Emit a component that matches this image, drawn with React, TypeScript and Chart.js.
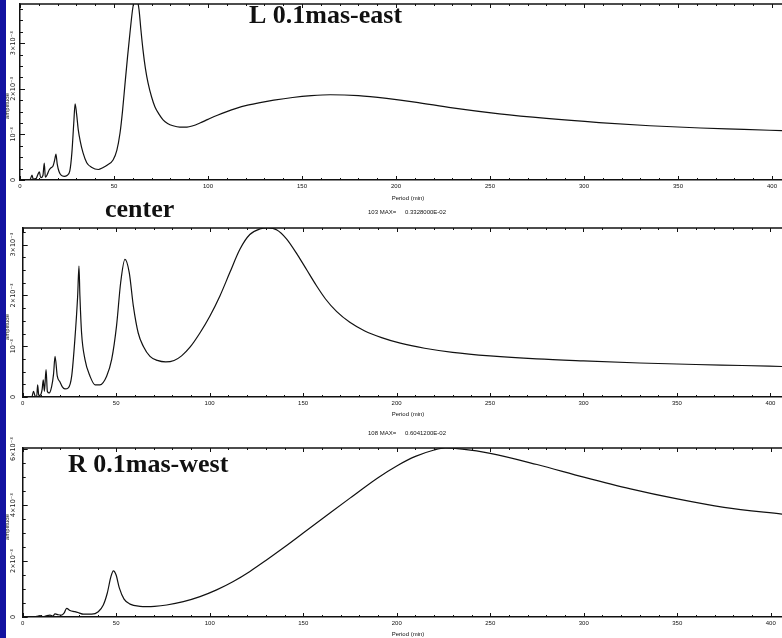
import { useEffect, useRef } from "react";
import { Chart, registerables } from "chart.js";

Chart.register(...registerables);

const PAGE_W = 782;
const PAGE_H = 638;
const INK = "#111";
const SANS = '"Liberation Sans", Arial, sans-serif';
const SERIF = '"Liberation Serif", "Times New Roman", serif';
const X_AXIS_H = 14;

// Period axis ticks (min)
const PERIOD_MAJOR = 50;
const PERIOD_MINOR = 10;

// Amplitudes are stored in units of 10^-3.
// L 0.1mas-east
const periodEast = [4, 5.5, 6.4, 7, 8.5, 9.5, 10.3, 11, 12.2, 12.9, 13.5, 14.5, 15.5, 16.5, 17.5, 18.5, 19.1, 19.8, 20.8, 22, 23.5, 25, 26.5, 27.6, 28.6, 29.3, 30.1, 31, 32, 33.5, 35.5, 38, 41.7, 44, 46.5, 49.5, 51.5, 53.2, 54.5, 55.9, 57.2, 58.5, 60.1, 61.5, 62.3, 63.3, 64.3, 65.4, 66.7, 68.1, 70, 71.8, 74, 76.1, 78.5, 81.4, 85, 88.8, 92, 95.7, 100, 105, 110, 115, 120, 127, 135, 145, 155, 165, 180, 195, 210, 230, 255, 280, 308, 335, 362, 385, 406];
const ampEast = [0, 0.02, 0.11, 0.02, 0.03, 0.12, 0.18, 0.05, 0.1, 0.37, 0.06, 0.12, 0.22, 0.27, 0.3, 0.45, 0.57, 0.35, 0.18, 0.1, 0.08, 0.1, 0.2, 0.6, 1.25, 1.67, 1.45, 1.1, 0.86, 0.6, 0.38, 0.28, 0.23, 0.27, 0.33, 0.44, 0.65, 1.03, 1.5, 2.13, 2.7, 3.23, 3.8, 3.98, 3.95, 3.74, 3.3, 2.86, 2.45, 2.13, 1.82, 1.6, 1.44, 1.32, 1.24, 1.19, 1.16, 1.16, 1.19, 1.25, 1.33, 1.42, 1.5, 1.57, 1.63, 1.69, 1.75, 1.81, 1.85, 1.87, 1.85, 1.79, 1.71, 1.58, 1.45, 1.35, 1.26, 1.19, 1.14, 1.11, 1.08];

// center
const periodCenter = [5, 5.8, 6.6, 7.5, 8, 8.6, 9.5, 10.4, 11, 11.6, 12.5, 13.2, 14.2, 15.5, 16.5, 17.3, 18.5, 19.9, 21.2, 22.6, 24.4, 26.2, 27.9, 29.4, 30.1, 30.6, 31.5, 33.3, 36, 38.7, 41.3, 44.9, 47.6, 50.2, 52.4, 54.7, 57, 59.2, 61.8, 64.5, 68.1, 72, 76.5, 81, 85, 89.5, 94.8, 100.1, 105.5, 110.8, 116.2, 121.5, 126.9, 131, 136, 141, 147, 152, 157, 162, 168, 175, 183, 192, 202, 215, 230, 250, 275, 300, 330, 360, 385, 407];
const ampCenter = [0, 0.11, 0.02, 0.01, 0.24, 0.03, 0.04, 0.15, 0.34, 0.11, 0.54, 0.11, 0.08, 0.21, 0.45, 0.8, 0.41, 0.3, 0.2, 0.16, 0.18, 0.41, 1.13, 1.99, 2.58, 2.0, 1.26, 0.74, 0.41, 0.24, 0.24, 0.41, 0.74, 1.4, 2.25, 2.71, 2.45, 1.79, 1.26, 1.0, 0.8, 0.72, 0.69, 0.72, 0.81, 0.98, 1.26, 1.59, 1.99, 2.45, 2.91, 3.2, 3.31, 3.328, 3.29, 3.12, 2.8, 2.5, 2.2, 1.93, 1.68, 1.47, 1.3, 1.17, 1.06, 0.96, 0.88, 0.81, 0.75, 0.71, 0.67, 0.64, 0.62, 0.6];

// R 0.1mas-west
const periodWest = [5.7, 7.5, 9.3, 11, 12.5, 14.6, 16, 17.3, 19, 20.8, 22.2, 23.5, 25.3, 27.9, 30, 32.4, 36.9, 40.4, 43.1, 45.2, 47.2, 48.5, 49.9, 51.7, 54.2, 57.4, 62.7, 66.5, 70.5, 77, 85.9, 94.8, 103.7, 112.6, 121.5, 130, 140, 150, 160, 175, 190, 200, 210, 220, 226, 235, 250, 275, 300, 325, 350, 375, 407];
const ampWest = [0, 0.02, 0.05, 0.01, 0.04, 0.07, 0.03, 0.11, 0.08, 0.07, 0.15, 0.31, 0.23, 0.19, 0.15, 0.1, 0.1, 0.19, 0.43, 0.85, 1.45, 1.65, 1.51, 1.03, 0.64, 0.46, 0.38, 0.37, 0.38, 0.43, 0.55, 0.73, 0.97, 1.27, 1.63, 2.02, 2.5, 3.0, 3.5, 4.25, 4.98, 5.4, 5.74, 5.97, 6.0412, 6.0, 5.85, 5.45, 5.0, 4.58, 4.22, 3.92, 3.67];

interface Panel {
  key: string;
  periods: number[];
  amps: number[];
  xMax: number;
  yMax: number;
  yMajor: number;
  yMinor: number;
  left: number;
  top: number;
  bottom: number;
  title: string;
  titleX: number;
  titleY: number;
  maxTag?: string;
  maxY?: number;
  ampLabelY: number;
  periodLabelY: number;
}

const panels: Panel[] = [
  {
    key: "east", periods: periodEast, amps: ampEast,
    xMax: 405.3, yMax: 3.86, yMajor: 1, yMinor: 0.25,
    left: 20, top: 4, bottom: 180,
    title: "L 0.1mas-east", titleX: 249, titleY: 23,
    ampLabelY: 106, periodLabelY: 198.5,
  },
  {
    key: "center", periods: periodCenter, amps: ampCenter,
    xMax: 406.2, yMax: 3.328, yMajor: 1, yMinor: 0.25,
    left: 22.7, top: 228, bottom: 397,
    title: "center", titleX: 105, titleY: 217,
    maxTag: "103", maxY: 212,
    ampLabelY: 327, periodLabelY: 414.7,
  },
  {
    key: "west", periods: periodWest, amps: ampWest,
    xMax: 406, yMax: 6.0412, yMajor: 2, yMinor: 0.5,
    left: 22.7, top: 448, bottom: 617,
    title: "R 0.1mas-west", titleX: 68, titleY: 472,
    maxTag: "108", maxY: 433.4,
    ampLabelY: 527, periodLabelY: 634.5,
  },
];

// Fortran-style E format, e.g. 0.3328000E-02
function fortranE(v: number): string {
  const exp = Math.floor(Math.log10(Math.abs(v))) + 1;
  const mant = v / Math.pow(10, exp);
  const sign = exp < 0 ? "-" : "+";
  return `${mant.toFixed(7)}E${sign}${String(Math.abs(exp)).padStart(2, "0")}`;
}

function ampLabel(v: number): string {
  if (Math.abs(v) < 1e-9) return "0";
  if (Math.abs(v - 1) < 1e-9) return "10\u207B\u00B3";
  return `${Math.round(v)}\u00D710\u207B\u00B3`;
}

function decorPlugin(p: Panel) {
  return {
    id: "decor-" + p.key,
    afterDraw(chart: any) {
      const ctx: CanvasRenderingContext2D = chart.ctx;
      const { left, right, top, bottom } = chart.chartArea;
      const xs = chart.scales.x;
      const ys = chart.scales.y;
      ctx.save();
      ctx.strokeStyle = INK;
      ctx.fillStyle = INK;

      // upper frame line
      ctx.lineWidth = 1.5;
      ctx.beginPath();
      ctx.moveTo(left, top);
      ctx.lineTo(right, top);
      ctx.stroke();

      // inward period ticks on bottom and top edges
      ctx.lineWidth = 1;
      for (let v = 0; v <= xs.max + 1e-9; v += PERIOD_MINOR) {
        const px = Math.round(xs.getPixelForValue(v)) + 0.5;
        const len = v % PERIOD_MAJOR === 0 ? 4 : 2;
        ctx.beginPath();
        ctx.moveTo(px, bottom);
        ctx.lineTo(px, bottom - len);
        ctx.moveTo(px, top);
        ctx.lineTo(px, top + len);
        ctx.stroke();
      }

      // inward amplitude ticks on the left edge
      for (let i = 0; i * p.yMinor <= ys.max + 1e-9; i++) {
        const v = i * p.yMinor;
        const py = Math.round(ys.getPixelForValue(v)) + 0.5;
        const r = v / p.yMajor;
        const major = Math.abs(r - Math.round(r)) < 1e-6;
        ctx.beginPath();
        ctx.moveTo(left, py);
        ctx.lineTo(left + (major ? 5 : 3), py);
        ctx.stroke();
      }

      // rotated amplitude tick labels
      ctx.font = `6.5px "DejaVu Sans", ${SANS}`;
      ctx.textAlign = "center";
      ctx.textBaseline = "middle";
      for (const t of ys.ticks) {
        const py = ys.getPixelForValue(t.value);
        ctx.save();
        ctx.translate(13.5, py);
        ctx.rotate(-Math.PI / 2);
        ctx.fillText(ampLabel(t.value), 0, 0);
        ctx.restore();
      }

      // axis titles
      ctx.font = `6px ${SANS}`;
      ctx.save();
      ctx.translate(7.5, p.ampLabelY);
      ctx.rotate(-Math.PI / 2);
      ctx.fillText("amplitude", 0, 0);
      ctx.restore();
      ctx.fillText("Period (min)", 408, p.periodLabelY);

      // maximum annotation above the frame
      if (p.maxTag && p.maxY !== undefined) {
        const peak = Math.max(...p.amps) * 1e-3;
        ctx.textAlign = "left";
        ctx.fillText(`${p.maxTag} MAX=`, 368, p.maxY);
        ctx.fillText(fortranE(peak), 405, p.maxY);
      }

      // panel caption
      ctx.font = `bold 26px ${SERIF}`;
      ctx.textAlign = "left";
      ctx.textBaseline = "alphabetic";
      ctx.fillText(p.title, p.titleX, p.titleY);
      ctx.restore();
    },
  };
}

function PanelChart({ p }: { p: Panel }) {
  const ref = useRef<HTMLCanvasElement>(null);
  useEffect(() => {
    const canvas = ref.current;
    if (!canvas) return;
    const chart = new Chart(canvas, {
      type: "line",
      data: {
        datasets: [
          {
            data: p.periods.map((x, i) => ({ x, y: p.amps[i] })),
            borderColor: INK,
            borderWidth: 1.2,
            pointRadius: 0,
            cubicInterpolationMode: "monotone",
            fill: false,
          },
        ],
      },
      options: {
        responsive: false,
        animation: false,
        events: [],
        layout: {
          padding: { left: 0, right: 0, top: p.top, bottom: PAGE_H - p.bottom - X_AXIS_H },
        },
        plugins: {
          legend: { display: false },
          tooltip: { enabled: false },
          title: { display: false },
        },
        scales: {
          x: {
            type: "linear",
            min: 0,
            max: p.xMax,
            afterFit: (s: any) => { s.height = X_AXIS_H; },
            grid: { display: false, drawTicks: false },
            border: { display: true, color: INK, width: 1.5 },
            ticks: {
              stepSize: PERIOD_MAJOR,
              includeBounds: false,
              autoSkip: false,
              maxRotation: 0,
              padding: 3,
              color: INK,
              font: { family: SANS, size: 6 },
              callback: (v: any) => String(v),
            },
          },
          y: {
            type: "linear",
            min: 0,
            max: p.yMax,
            afterFit: (s: any) => { s.width = p.left; },
            grid: { display: false, drawTicks: false },
            border: { display: true, color: INK, width: 1.5 },
            ticks: { display: false, stepSize: p.yMajor, includeBounds: false },
          },
        },
      } as any,
      plugins: [decorPlugin(p)],
    });
    return () => chart.destroy();
  }, [p]);
  return (
    <canvas
      ref={ref}
      width={PAGE_W}
      height={PAGE_H}
      style={{ position: "absolute", left: 0, top: 0, width: PAGE_W, height: PAGE_H }}
    />
  );
}

export default function App() {
  return (
    <div
      style={{
        position: "absolute",
        left: 0,
        top: 0,
        width: PAGE_W,
        height: PAGE_H,
        background: "#fff",
        overflow: "hidden",
      }}
    >
      {panels.map((p) => (
        <PanelChart key={p.key} p={p} />
      ))}
      <div
        style={{
          position: "absolute",
          left: 0,
          top: 0,
          width: 6,
          height: PAGE_H,
          background: "#1212a0",
        }}
      />
    </div>
  );
}
